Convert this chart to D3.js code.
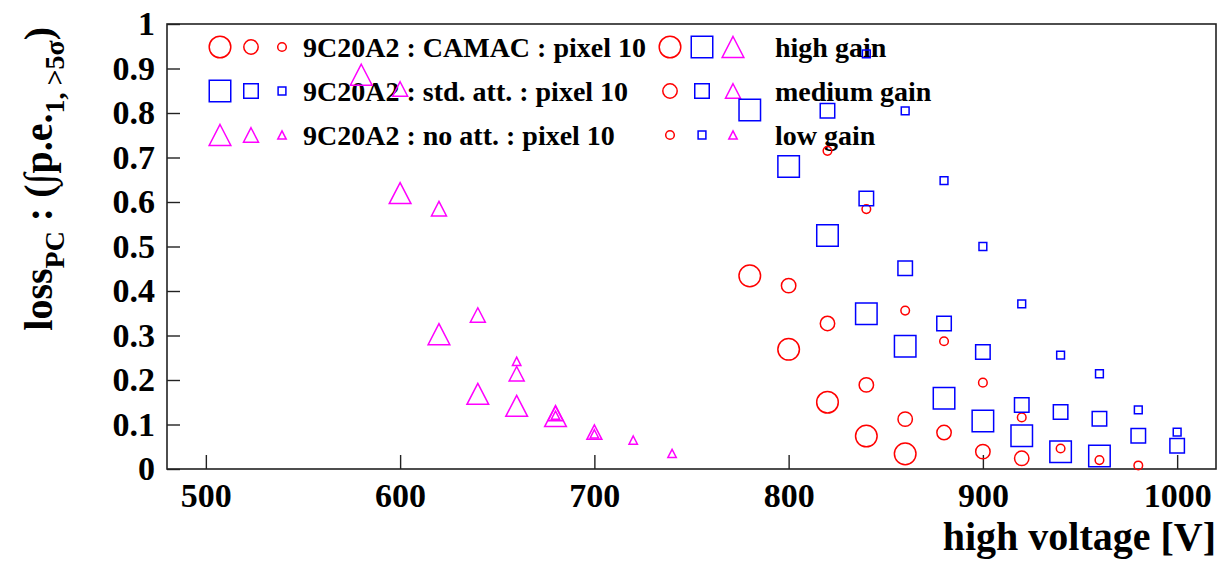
<!DOCTYPE html>
<html>
<head>
<meta charset="utf-8">
<script src="https://cdn.jsdelivr.net/npm/d3@7"></script>
<style>
  html, body { margin: 0; padding: 0; background: #fff; }
  svg { display: block; }
  text { font-family: "Liberation Serif", "Times New Roman", serif; font-weight: bold; fill: #000; }
</style>
</head>
<body>
<svg id="chart" width="1218" height="571"></svg>
<script>
// ---------------- data ----------------
// CAMAC (red circles)
const camacHighV = [780, 800, 820, 840, 860];
const camacHigh  = [0.434, 0.269, 0.150, 0.074, 0.034];
const camacMedV  = [800, 820, 840, 860, 880, 900, 920];
const camacMed   = [0.412, 0.327, 0.189, 0.112, 0.082, 0.039, 0.024];
const camacLowV  = [820, 840, 860, 880, 900, 920, 940, 960, 980];
const camacLow   = [0.715, 0.584, 0.356, 0.287, 0.194, 0.116, 0.046, 0.020, 0.008];
// std. att. (blue squares)
const stdHighV = [780, 800, 820, 840, 860, 880, 900, 920, 940, 960];
const stdHigh  = [0.807, 0.680, 0.525, 0.349, 0.276, 0.159, 0.108, 0.075, 0.039, 0.029];
const stdMedV  = [820, 840, 860, 880, 900, 920, 940, 960, 980, 1000];
const stdMed   = [0.805, 0.608, 0.451, 0.327, 0.263, 0.144, 0.128, 0.113, 0.075, 0.052];
const stdLowV  = [840, 860, 880, 900, 920, 940, 960, 980, 1000];
const stdLow   = [0.933, 0.805, 0.648, 0.500, 0.371, 0.256, 0.214, 0.133, 0.083];
// no att. (magenta triangles)
const noHighV = [580, 600, 620, 640, 660, 680];
const noHigh  = [0.886, 0.620, 0.303, 0.169, 0.142, 0.119];
const noMedV  = [600, 620, 640, 660, 680, 700];
const noMed   = [0.854, 0.585, 0.346, 0.214, 0.125, 0.083];
const noLowV  = [660, 680, 700, 720, 740];
const noLow   = [0.242, 0.121, 0.079, 0.065, 0.035];

const xMajorTicks = [500, 600, 700, 800, 900, 1000];
const yMajorTicks = [0, 0.1, 0.2, 0.3, 0.4, 0.5, 0.6, 0.7, 0.8, 0.9, 1];
const xTitle = "high voltage [V]";
const seriesLabels = ["9C20A2 : CAMAC : pixel 10", "9C20A2 : std. att. : pixel 10", "9C20A2 : no att. : pixel 10"];
const gainLabels = ["high gain", "medium gain", "low gain"];

// ---------------- styles ----------------
const RED = "#ff0000", BLUE = "#0000ff", MAG = "#ff00ff";
const circleR = [10.8, 7.2, 4.3];
const squareS = [21.5, 14.5, 7.8];
const triW = [21.7, 15, 8.4], triH = [21, 14.5, 8.2];

function markerPath(shape, sizeIdx) {
  if (shape === "circle") {
    const r = circleR[sizeIdx];
    return `M${r},0A${r},${r} 0 1,1 ${-r},0A${r},${r} 0 1,1 ${r},0Z`;
  } else if (shape === "square") {
    const h = squareS[sizeIdx] / 2;
    return `M${-h},${-h}H${h}V${h}H${-h}Z`;
  } else {
    const w = triW[sizeIdx] / 2, h = triH[sizeIdx] / 2;
    return `M0,${-h}L${w},${h}L${-w},${h}Z`;
  }
}

const svg = d3.select("#chart");
const x = d3.scaleLinear().domain([480, 1020]).range([167, 1216]);
const y = d3.scaleLinear().domain([0, 1]).range([469, 24]);

// ---------------- axes ----------------
const xMinor = d3.range(480, 1021, 20).filter(v => v % 100 !== 0);
const yMinor = d3.range(0, 51, 1).map(i => i / 50).filter((v, i) => i % 5 !== 0);

const gx = svg.append("g").attr("transform", `translate(0,${y(0)})`);
gx.call(d3.axisBottom(x).tickValues(xMinor).tickSize(-7).tickFormat(""));
gx.call(d3.axisBottom(x).tickValues(xMajorTicks).tickSize(-14).tickPadding(14).tickFormat(d3.format("d")));
gx.selectAll(".domain").remove();
gx.selectAll("line").attr("stroke", "#222").attr("stroke-width", 1.4);
gx.selectAll("text").attr("font-size", 34).attr("font-family", "Liberation Serif, serif").attr("font-weight", "bold").attr("fill", "#000");

const gy = svg.append("g").attr("transform", `translate(${x(480)},0)`);
gy.call(d3.axisLeft(y).tickValues(yMinor).tickSize(-6.5).tickFormat(""));
gy.call(d3.axisLeft(y).tickValues(yMajorTicks).tickSize(-13).tickPadding(12)
  .tickFormat(d => d === 0 ? "0" : d === 1 ? "1" : d3.format(".1f")(d)));
gy.selectAll(".domain").remove();
gy.selectAll("line").attr("stroke", "#222").attr("stroke-width", 1.4);
gy.selectAll("text").attr("font-size", 34).attr("font-family", "Liberation Serif, serif").attr("font-weight", "bold").attr("fill", "#000");

// frame
svg.append("rect")
  .attr("x", x(480)).attr("y", y(1))
  .attr("width", x(1020) - x(480)).attr("height", y(0) - y(1))
  .attr("fill", "none").attr("stroke", "#222").attr("stroke-width", 1.6);

// ---------------- data points ----------------
const series = [
  { xs: camacHighV, ys: camacHigh, shape: "circle", size: 0, color: RED },
  { xs: camacMedV,  ys: camacMed,  shape: "circle", size: 1, color: RED },
  { xs: camacLowV,  ys: camacLow,  shape: "circle", size: 2, color: RED },
  { xs: stdHighV, ys: stdHigh, shape: "square", size: 0, color: BLUE },
  { xs: stdMedV,  ys: stdMed,  shape: "square", size: 1, color: BLUE },
  { xs: stdLowV,  ys: stdLow,  shape: "square", size: 2, color: BLUE },
  { xs: noHighV, ys: noHigh, shape: "triangle", size: 0, color: MAG },
  { xs: noMedV,  ys: noMed,  shape: "triangle", size: 1, color: MAG },
  { xs: noLowV,  ys: noLow,  shape: "triangle", size: 2, color: MAG },
];

// ---------------- legend ----------------
const legRowY = [47, 91, 135];
const legShapes = [["circle", RED], ["square", BLUE], ["triangle", MAG]];
const leg = svg.append("g");
legShapes.forEach(([shape, color], row) => {
  [220, 251, 282].forEach((lx, si) => {
    leg.append("path").attr("d", markerPath(shape, si))
      .attr("transform", `translate(${lx},${legRowY[row]})`)
      .attr("fill", "none").attr("stroke", color).attr("stroke-width", 1.5);
  });
  leg.append("text").attr("x", 303).attr("y", legRowY[row] + 10)
    .attr("font-size", 28).text(seriesLabels[row]);
});
gainLabels.forEach((lab, si) => {
  legShapes.forEach(([shape, color], k) => {
    leg.append("path").attr("d", markerPath(shape, si))
      .attr("transform", `translate(${[670, 702, 733][k]},${legRowY[si]})`)
      .attr("fill", "none").attr("stroke", color).attr("stroke-width", 1.5);
  });
  leg.append("text").attr("x", 775).attr("y", legRowY[si] + 10)
    .attr("font-size", 28).text(lab);
});

// points (drawn after legend so they overlap it as in the original)
const pts = svg.append("g");
series.forEach(s => {
  pts.selectAll(null).data(s.xs.map((v, i) => [v, s.ys[i]])).enter()
    .append("path")
    .attr("d", markerPath(s.shape, s.size))
    .attr("transform", d => `translate(${x(d[0])},${y(d[1])})`)
    .attr("fill", "none").attr("stroke", s.color).attr("stroke-width", 1.5);
});

// ---------------- titles ----------------
svg.append("text").attr("x", 1216).attr("y", 550).attr("text-anchor", "end")
  .attr("font-size", 40).text(xTitle);

const yt = svg.append("text").attr("transform", "translate(52,27) rotate(-90)")
  .attr("text-anchor", "end").attr("font-size", 40);
yt.append("tspan").text("loss");
yt.append("tspan").attr("font-size", 28).attr("dy", 12).text("PC");
yt.append("tspan").attr("dy", -12).text(" : (\u222Bp.e.");
yt.append("tspan").attr("font-size", 28).attr("dy", 12).text("1, >5\u03C3");
yt.append("tspan").attr("dy", -12).text(")");
</script>
</body>
</html>
